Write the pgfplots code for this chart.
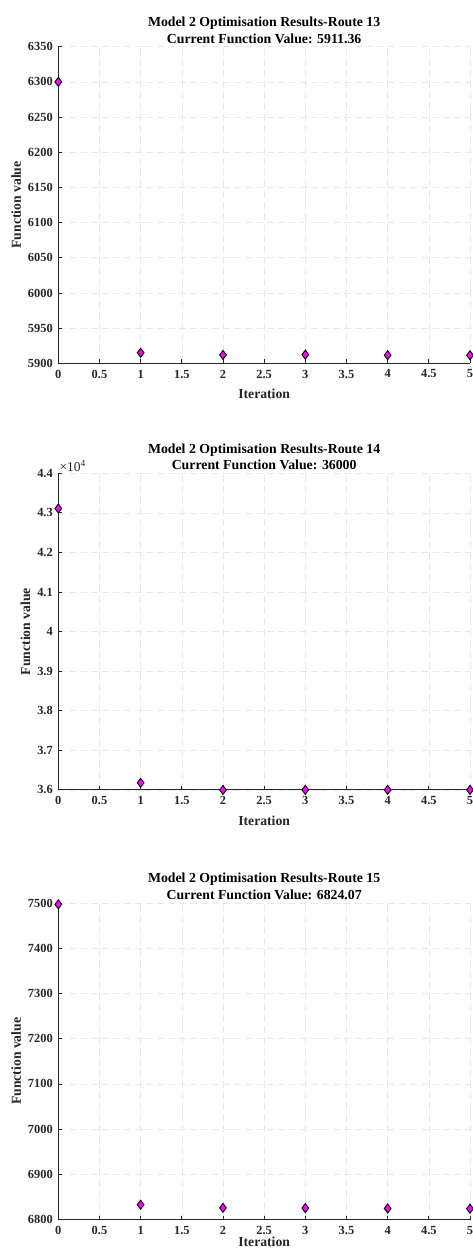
\documentclass[border=0pt]{standalone}
\usepackage{pgfplots}
\pgfplotsset{compat=1.18}
\usepackage{fontspec}
\setmainfont{Liberation Serif}

\definecolor{mkfill}{RGB}{255,0,255}
\definecolor{axgray}{RGB}{38,38,38}

\pgfplotsset{
  routeaxis/.style={
    scale only axis, width=411.7pt, height=316.6pt,
    anchor=north west, clip=false,
    xmin=0, xmax=5, xtick={0,0.5,...,5},
    axis x line*=bottom, axis y line*=left,
    axis line style={-, axgray, line width=0.8pt},
    tick align=inside, major tick length=4pt,
    tick style={axgray, line width=0.8pt},
    grid=major,
    major grid style={dash pattern=on 7pt off 4pt, black!9, line width=0.6pt},
    /pgf/number format/assume math mode=true,
    /pgf/number format/set thousands separator={},
    ticklabel style={font=\bfseries\fontsize{12.4}{14}\selectfont, text=axgray},
    xticklabel style={yshift=-3pt},
    yticklabel style={xshift=-2pt},
    label style={font=\bfseries\fontsize{13.7}{16}\selectfont, text=axgray},
    xlabel style={yshift=-4pt},
    every axis title shift=0pt,
    title style={font=\bfseries\fontsize{13.8}{16.7}\selectfont, align=center, inner sep=1pt, yshift=2pt, text=black},
    xlabel={Iteration}, ylabel={Function value},
  },
  pts/.style={only marks, mark=diamond*, mark size=4.5pt,
    mark options={fill=mkfill, draw=black, line width=0.9pt}},
}

\begin{document}
\begin{tikzpicture}
\path[use as bounding box] (0,0) rectangle (473pt,-1252pt);

% route 13
\begin{axis}[routeaxis, at={(58.3pt,-46.7pt)},
  ymin=5900, ymax=6350, ytick={5900,5950,...,6350},
  title={Model 2 Optimisation Results-Route 13\\Current Function Value: 5911.36}]
  \addplot[pts] coordinates {(0,6300) (1,5915) (2,5912) (3,5912.3) (4,5911.5) (5,5911.36)};
\end{axis}

% route 14
\begin{axis}[routeaxis, at={(58.3pt,-473.3pt)},
  ymin=36000, ymax=44000, ytick={36000,37000,...,44000},
  scaled y ticks=false,
  yticklabels={3.6,3.7,3.8,3.9,4,4.1,4.2,4.3,4.4},
  title={Model 2 Optimisation Results-Route 14\\Current Function Value: 36000}]
  \addplot[pts] coordinates {(0,43110) (1,36180) (2,36000) (3,36000) (4,36000) (5,36000)};
  \node[anchor=south west, inner sep=1pt, text=axgray, font=\fontsize{13.5}{15}\selectfont]
    at (rel axis cs:0,1) {×10\textsuperscript{4}};
\end{axis}

% route 15
\begin{axis}[routeaxis, at={(58.3pt,-903pt)},
  ymin=6800, ymax=7500, ytick={6800,6900,...,7500},
  xlabel style={yshift=5pt, inner sep=0pt},
  title={Model 2 Optimisation Results-Route 15\\Current Function Value: 6824.07}]
  \addplot[pts] coordinates {(0,7497) (1,6833) (2,6826) (3,6825.5) (4,6824.6) (5,6824.07)};
\end{axis}
\end{tikzpicture}
\end{document}
